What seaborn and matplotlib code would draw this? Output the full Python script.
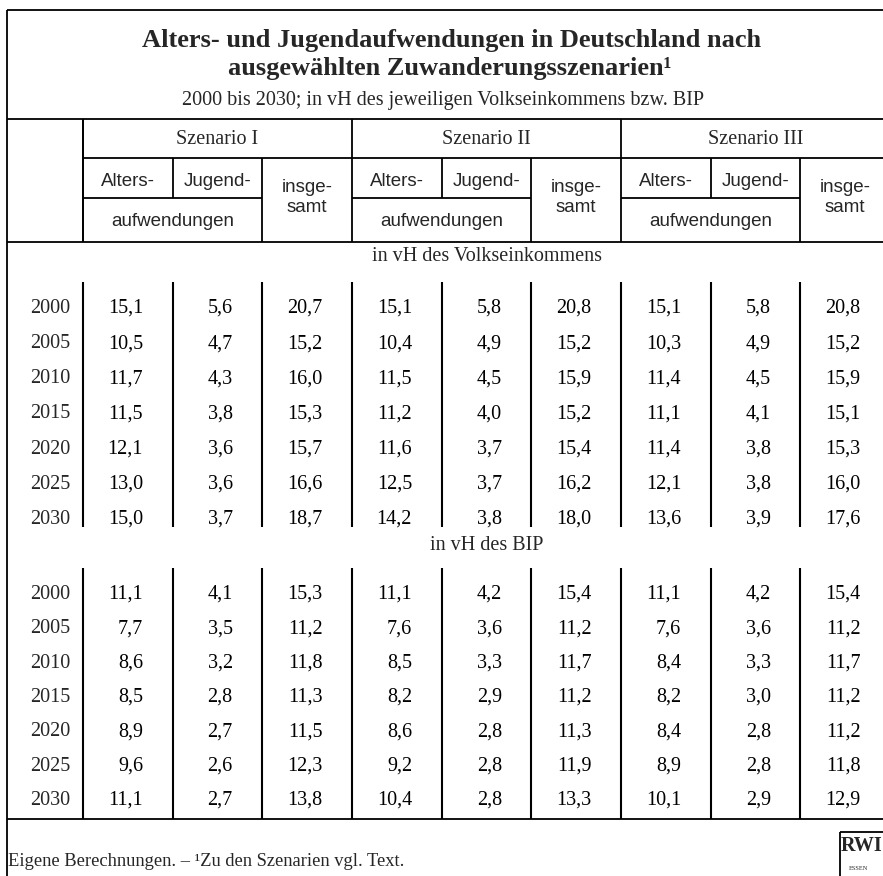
import numpy as np
import pandas as pd
import seaborn as sns
import matplotlib
matplotlib.use('Agg')
import matplotlib.pyplot as plt
from matplotlib.colors import ListedColormap
from matplotlib.transforms import ScaledTranslation

years = [2000, 2005, 2010, 2015, 2020, 2025, 2030]
scenarios = ['Szenario I', 'Szenario II', 'Szenario III']
sections = ['in vH des Volkseinkommens', 'in vH des BIP']

# in vH des Volkseinkommens
ve_s1_alters = [15.1, 10.5, 11.7, 11.5, 12.1, 13.0, 15.0]
ve_s1_jugend = [5.6, 4.7, 4.3, 3.8, 3.6, 3.6, 3.7]
ve_s1_insg = [20.7, 15.2, 16.0, 15.3, 15.7, 16.6, 18.7]
ve_s2_alters = [15.1, 10.4, 11.5, 11.2, 11.6, 12.5, 14.2]
ve_s2_jugend = [5.8, 4.9, 4.5, 4.0, 3.7, 3.7, 3.8]
ve_s2_insg = [20.8, 15.2, 15.9, 15.2, 15.4, 16.2, 18.0]
ve_s3_alters = [15.1, 10.3, 11.4, 11.1, 11.4, 12.1, 13.6]
ve_s3_jugend = [5.8, 4.9, 4.5, 4.1, 3.8, 3.8, 3.9]
ve_s3_insg = [20.8, 15.2, 15.9, 15.1, 15.3, 16.0, 17.6]

# in vH des BIP
bip_s1_alters = [11.1, 7.7, 8.6, 8.5, 8.9, 9.6, 11.1]
bip_s1_jugend = [4.1, 3.5, 3.2, 2.8, 2.7, 2.6, 2.7]
bip_s1_insg = [15.3, 11.2, 11.8, 11.3, 11.5, 12.3, 13.8]
bip_s2_alters = [11.1, 7.6, 8.5, 8.2, 8.6, 9.2, 10.4]
bip_s2_jugend = [4.2, 3.6, 3.3, 2.9, 2.8, 2.8, 2.8]
bip_s2_insg = [15.4, 11.2, 11.7, 11.2, 11.3, 11.9, 13.3]
bip_s3_alters = [11.1, 7.6, 8.4, 8.2, 8.4, 8.9, 10.1]
bip_s3_jugend = [4.2, 3.6, 3.3, 3.0, 2.8, 2.8, 2.9]
bip_s3_insg = [15.4, 11.2, 11.7, 11.2, 11.2, 11.8, 12.9]

ve = pd.DataFrame(np.column_stack([ve_s1_alters, ve_s1_jugend, ve_s1_insg,
                                   ve_s2_alters, ve_s2_jugend, ve_s2_insg,
                                   ve_s3_alters, ve_s3_jugend, ve_s3_insg]), index=years)
bip = pd.DataFrame(np.column_stack([bip_s1_alters, bip_s1_jugend, bip_s1_insg,
                                    bip_s2_alters, bip_s2_jugend, bip_s2_insg,
                                    bip_s3_alters, bip_s3_jugend, bip_s3_insg]), index=years)

sns.set_style('white')
plt.rcParams['font.family'] = ['Liberation Serif', 'DejaVu Serif']
SANS = ['Liberation Sans', 'DejaVu Sans']

W, H = 883, 876
fig = plt.figure(figsize=(W / 100, H / 100), dpi=100)
frame = fig.add_axes([0, 0, 1, 1])
frame.set_xlim(0, W)
frame.set_ylim(H, 0)
frame.axis('off')

edges = 83 + 89.67 * np.arange(10)   # column boundaries in px
lw = 1.3
fs = 14.5


def hline(y, x0, x1):
    frame.plot([x0, x1], [y, y], color='black', lw=lw, solid_capstyle='butt')


def vline(x, y0, y1):
    frame.plot([x, x], [y0, y1], color='black', lw=lw, solid_capstyle='butt')


# outer frame + header grid
vline(7, 10, H)
hline(10, 7, W)
hline(119, 7, W)
hline(242, 7, W)
hline(819, 7, W)
vline(edges[0], 119, 242)
hline(158, edges[0], W)
for g in range(3):
    a, b, c, d = edges[3 * g], edges[3 * g + 1], edges[3 * g + 2], edges[3 * g + 3]
    vline(a, 119, 242)
    vline(b, 158, 198)
    vline(c, 158, 242)
    hline(198, a, c)
    frame.text((a + d) / 2, 140, scenarios[g], ha='center', va='center', fontsize=fs)
    frame.text((a + b) / 2, 181, 'Alters-', ha='center', va='center', fontsize=13.5, family=SANS)
    frame.text((b + c) / 2, 181, 'Jugend-', ha='center', va='center', fontsize=13.5, family=SANS)
    frame.text((a + c) / 2, 221, 'aufwendungen', ha='center', va='center', fontsize=13.5, family=SANS)
    frame.text((c + d) / 2, 188, 'insge-', ha='center', va='center', fontsize=13.5, family=SANS)
    frame.text((c + d) / 2, 208, 'samt', ha='center', va='center', fontsize=13.5, family=SANS)

# title
frame.text(452, 41, 'Alters- und Jugendaufwendungen in Deutschland nach',
           ha='center', va='center', fontsize=19, fontweight='bold')
frame.text(450, 69, 'ausgewählten Zuwanderungsszenarien¹',
           ha='center', va='center', fontsize=19, fontweight='bold')
frame.text(443, 100, '2000 bis 2030; in vH des jeweiligen Volkseinkommens bzw. BIP',
           ha='center', va='center', fontsize=fs)

# footnote + logo
frame.text(8, 862, 'Eigene Berechnungen. – ¹Zu den Szenarien vgl. Text.',
           ha='left', va='center', fontsize=13.3)
vline(840, 832, H)
hline(832, 840, W)
frame.text(862, 846, 'RWI', ha='center', va='center', fontsize=14.5, fontweight='bold')
frame.text(858, 869, 'ESSEN', ha='center', va='center', fontsize=4.5)

white = ListedColormap(['white'])
nudge = ScaledTranslation(0, -1.5 / 72, fig.dpi_scale_trans)


def draw_block(df, top, step, label, label_y, line_top, line_bot):
    n = len(df)
    ax = fig.add_axes([edges[0] / W, 1 - (top + n * step) / H,
                       (edges[-1] - edges[0]) / W, n * step / H])
    annot = df.map(lambda v: f'{v:.1f}'.replace('.', ','))
    sns.heatmap(df, ax=ax, cmap=white, cbar=False, annot=annot, fmt='',
                annot_kws=dict(fontsize=fs, color='black'),
                xticklabels=False, yticklabels=years)
    for t in ax.texts:
        x, y = t.get_position()
        t.set_position((x + 0.17, y))
        t.set_ha('right')
        t.set_va('center_baseline')
    ax.set_yticklabels(years, rotation=0, fontsize=fs, va='center_baseline')
    for lab in ax.get_yticklabels():
        lab.set_transform(lab.get_transform() + nudge)
    ax.tick_params(axis='y', length=0, pad=9)
    ax.set_xlabel('')
    ax.set_ylabel('')
    for s in ax.spines.values():
        s.set_visible(False)
    ax.vlines(range(9), (line_top - top) / step, (line_bot - top) / step,
              colors='black', lw=1.5, clip_on=False)
    ax.text(4.5, (label_y - top) / step, label, ha='center', va='center',
            fontsize=fs, clip_on=False)


draw_block(ve, 288.4, 35.17, sections[0], 257, 282, 527)
draw_block(bip, 574.8, 34.33, sections[1], 545, 568, 819)

fig.savefig('out.png', dpi=100)
